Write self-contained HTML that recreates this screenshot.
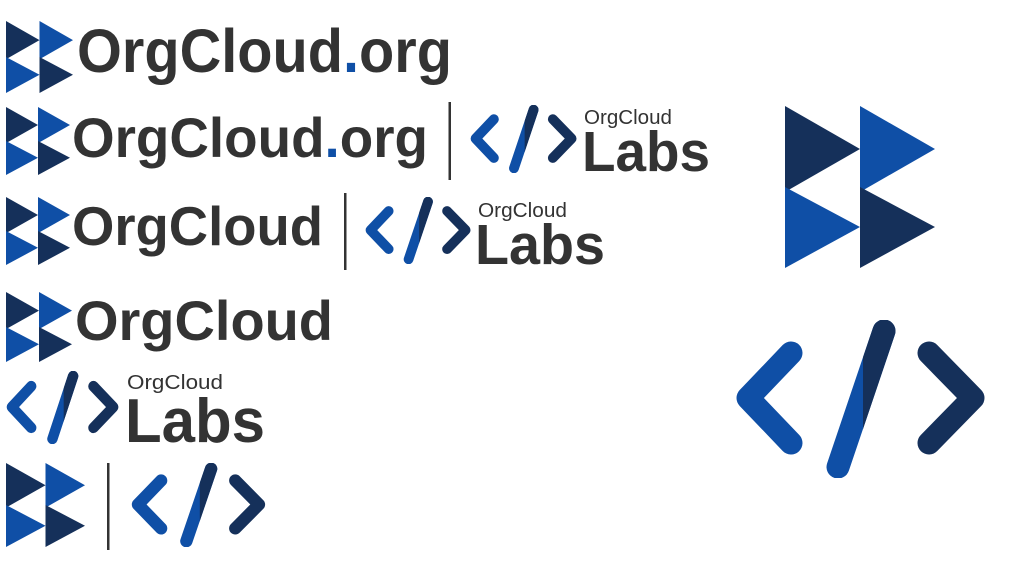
<!DOCTYPE html>
<html><head><meta charset="utf-8"><style>
html,body{margin:0;padding:0;background:#fff;width:1024px;height:572px;overflow:hidden}
svg{display:block}
text{font-family:"Liberation Sans",sans-serif;fill:#333}
</style></head><body>
<svg width="1024" height="572" viewBox="0 0 1024 572" xmlns="http://www.w3.org/2000/svg">
<defs>
<symbol id="B" viewBox="0 0 150 162" preserveAspectRatio="none">
<polygon points="0,0 75,43 0,86" fill="#15305a"/>
<polygon points="75,0 150,43 75,86" fill="#0f4fa6"/>
<polygon points="0,81 75,121 0,162" fill="#0f4fa6"/>
<polygon points="75,81 150,121 75,162" fill="#15305a"/>
</symbol>
<clipPath id="cr" clipPathUnits="userSpaceOnUse"><rect x="863" y="300" width="100" height="200"/></clipPath>
<symbol id="C" viewBox="735 320 253 158" preserveAspectRatio="none">
<g fill="none" stroke-width="23" stroke-linecap="round" stroke-linejoin="round">
<polyline points="791,353 748,398 791,443" stroke="#0f4fa6"/>
<line x1="884" y1="331" x2="838" y2="467" stroke="#0f4fa6"/>
<line x1="884" y1="331" x2="838" y2="467" stroke="#15305a" clip-path="url(#cr)"/>
<polyline points="929,353 973,398 929,443" stroke="#15305a"/>
</g>
</symbol>
</defs>

<!-- Row 1 -->
<use href="#B" x="6" y="21" width="67" height="72"/>
<text x="77" y="72" font-size="61" font-weight="bold" textLength="375" lengthAdjust="spacingAndGlyphs">OrgCloud<tspan fill="#0f4fa6">.</tspan>org</text>

<!-- Row 2 -->
<use href="#B" x="6" y="107" width="64" height="68"/>
<text x="72" y="157" font-size="56" font-weight="bold" textLength="356" lengthAdjust="spacingAndGlyphs">OrgCloud<tspan fill="#0f4fa6">.</tspan>org</text>
<rect x="448.5" y="102" width="2.5" height="78" fill="#333"/>
<use href="#C" x="470" y="105" width="108" height="68"/>
<text x="584" y="124" font-size="20" textLength="88" lengthAdjust="spacingAndGlyphs">OrgCloud</text>
<text x="582" y="171" font-size="57" font-weight="bold" textLength="128" lengthAdjust="spacingAndGlyphs">Labs</text>

<!-- Row 3 -->
<use href="#B" x="6" y="197" width="64" height="68"/>
<text x="72" y="245" font-size="55" font-weight="bold" textLength="251" lengthAdjust="spacingAndGlyphs">OrgCloud</text>
<rect x="344" y="193" width="2.5" height="77" fill="#333"/>
<use href="#C" x="365" y="197" width="107" height="67"/>
<text x="478" y="217" font-size="20" textLength="89" lengthAdjust="spacingAndGlyphs">OrgCloud</text>
<text x="475" y="264" font-size="57" font-weight="bold" textLength="130" lengthAdjust="spacingAndGlyphs">Labs</text>

<!-- Row 4 -->
<use href="#B" x="6" y="292" width="66" height="70"/>
<text x="75" y="340" font-size="56" font-weight="bold" textLength="258" lengthAdjust="spacingAndGlyphs">OrgCloud</text>

<!-- Row 5 -->
<use href="#C" x="6" y="371" width="114" height="73"/>
<text x="127" y="389" font-size="20" textLength="96" lengthAdjust="spacingAndGlyphs">OrgCloud</text>
<text x="125" y="442" font-size="62" font-weight="bold" textLength="140" lengthAdjust="spacingAndGlyphs">Labs</text>

<!-- Row 6 -->
<use href="#B" x="6" y="463" width="79" height="84"/>
<rect x="107" y="463" width="2.5" height="87" fill="#333"/>
<use href="#C" x="131" y="463" width="136" height="84"/>

<!-- Big icons -->
<use href="#B" x="785" y="106" width="150" height="162"/>
<use href="#C" x="735" y="320" width="253" height="158"/>
</svg>
</body></html>
